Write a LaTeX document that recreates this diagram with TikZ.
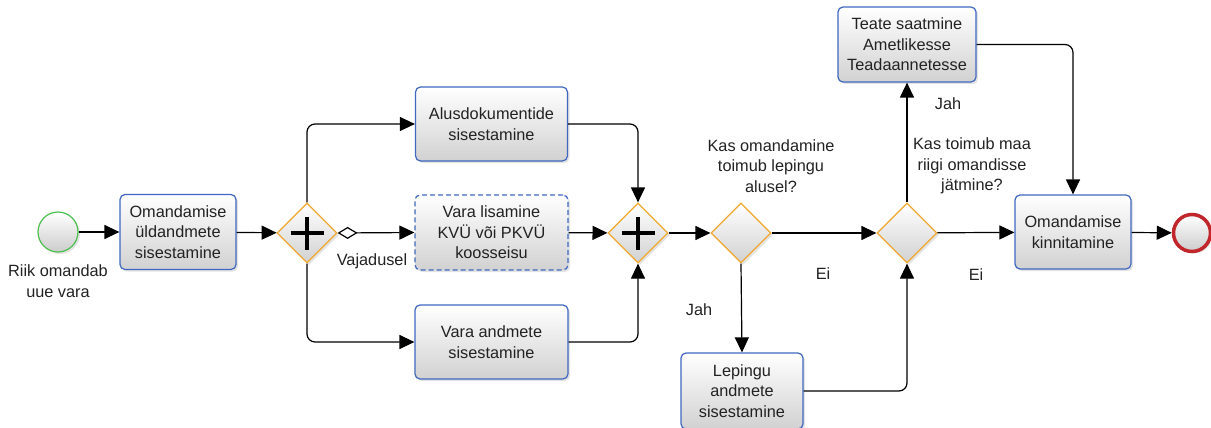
\documentclass[tikz,border=0pt]{standalone}
\usepackage{fontspec}
\setmainfont{Liberation Sans}
\usetikzlibrary{arrows.meta,shapes.geometric,shadows}
\definecolor{taskblue}{HTML}{3F67C0}
\definecolor{gworange}{HTML}{F0A830}
\definecolor{startgreen}{HTML}{4CC04C}
\definecolor{endred}{HTML}{C0262A}
\definecolor{textgray}{HTML}{222222}
\begin{document}
\begin{tikzpicture}[x=1pt,y=-1pt,
  font=\fontsize{16.3}{20.5}\selectfont,
  shd/.style={drop shadow={opacity=0.22,shadow xshift=2pt,shadow yshift=-2pt}},
  taskbox/.style={shd,draw=taskblue, line width=1.2pt, rounded corners=5pt,
    top color=white, bottom color=black!18, align=center, inner sep=0pt,
    text=textgray},
  gw/.style={shd,diamond, draw=gworange, line width=1.2pt, top color=white,
    bottom color=black!18, minimum width=60pt, minimum height=60pt, inner sep=0pt},
  evt/.style={shd,circle, top color=white, bottom color=black!20, minimum size=40pt, inner sep=0pt},
  flow/.style={line width=1.2pt, -{Triangle[length=15pt,width=14pt]}, rounded corners=8pt},
  condflow/.style={line width=1.2pt, {Diamond[open,fill=white,length=20pt,width=12pt,line width=1.2pt]}-{Triangle[length=15pt,width=14pt]}},
  lbl/.style={align=center, text=textgray, inner sep=0pt},
  cross/.style={line width=4pt}
]
\useasboundingbox (0,0) rectangle (1211,428);

% events
\node[evt, draw=startgreen, line width=1.2pt] (start) at (58,232) {};
\node[lbl] (startlbl) at (58,281) {Riik omandab\\uue vara};
\node[evt, draw=endred, line width=3.5pt, minimum size=37pt] (end) at (1192,233) {};

% tasks
\node[taskbox, minimum width=116pt, minimum height=75pt] (t1) at (178,232) {Omandamise\\üldandmete\\sisestamine};
\node[taskbox, minimum width=152pt, minimum height=74pt] (t2) at (491.5,124) {Alusdokumentide\\sisestamine};
\node[taskbox, minimum width=153pt, minimum height=75pt, dash pattern=on 5pt off 3pt] (t3) at (491.5,232.5) {Vara lisamine\\KVÜ või PKVÜ\\koosseisu};
\node[taskbox, minimum width=153pt, minimum height=74pt] (t4) at (491.5,342) {Vara andmete\\sisestamine};
\node[taskbox, minimum width=122pt, minimum height=76pt] (t5) at (742,391) {Lepingu\\andmete\\sisestamine};
\node[taskbox, minimum width=138pt, minimum height=75pt] (t6) at (907,44.5) {Teate saatmine\\Ametlikesse\\Teadaannetesse};
\node[taskbox, minimum width=116pt, minimum height=74pt] (t7) at (1073,232) {Omandamise\\kinnitamine};

% gateways
\node[gw] (g1) at (307,233) {};
\node[gw] (g2) at (638,233) {};
\node[gw] (g3) at (741,233) {};
\node[gw] (g4) at (907,233) {};
\draw[cross] (g1.center) +(-16.5,0) -- +(16.5,0) (g1.center) +(0,-16.5) -- +(0,16.5);
\draw[cross] (g2.center) +(-16.5,0) -- +(16.5,0) (g2.center) +(0,-16.5) -- +(0,16.5);

% labels
\node[lbl] (l1) at (372,261) {Vajadusel};
\node[lbl] (q1) at (771,166) {Kas omandamine\\toimub lepingu\\alusel?};
\node[lbl] (q2) at (972,166) {Kas toimub maa\\riigi omandisse\\jätmine?};
\node[lbl] (ei1) at (823,274) {Ei};
\node[lbl] (jah1) at (699,310) {Jah};
\node[lbl] (jah2) at (948,104) {Jah};
\node[lbl] (ei2) at (976,275) {Ei};

% flows
\draw[flow] (start) -- (t1);
\draw[flow] (t1) -- (g1);
\draw[flow] (g1.north) |- (t2.west);
\draw[condflow] (g1.east) -- (t3.west);
\draw[flow] (g1.south) |- (t4.west);
\draw[flow] (t2.east) -| (g2.north);
\draw[flow] (t3) -- (g2);
\draw[flow] (t4.east) -| (g2.south);
\draw[flow] (g2) -- (g3);
\draw[flow] (g3) -- (g4);
\draw[flow] (g3.south) -- (t5.north);
\draw[flow] (t5.east) -| (g4.south);
\draw[flow] (g4.north) -- (t6.south);
\draw[flow] (g4) -- (t7);
\draw[flow] (t6.east) -| (t7.north);
\draw[flow] (t7) -- (end);
\end{tikzpicture}
\end{document}
